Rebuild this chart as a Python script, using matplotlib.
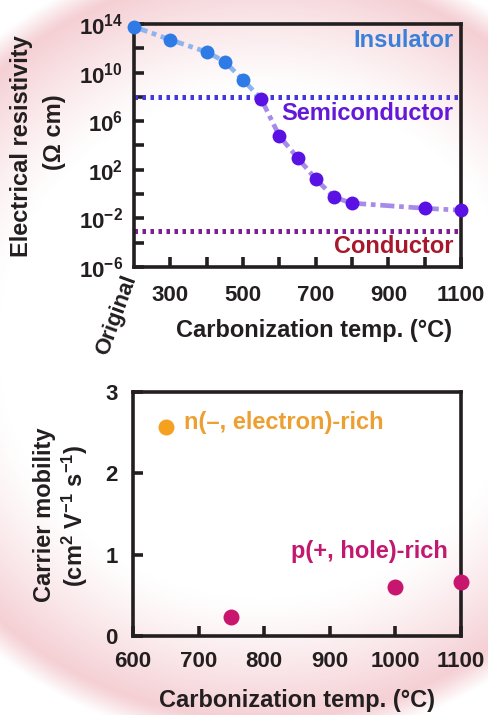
import numpy as np
import matplotlib
matplotlib.use("Agg")
import matplotlib.pyplot as plt
from matplotlib.ticker import NullFormatter

plt.rcParams['font.family'] = ['Liberation Sans', 'DejaVu Sans']
plt.rcParams['font.weight'] = 'bold'
plt.rcParams['mathtext.fontset'] = 'custom'
plt.rcParams['mathtext.rm'] = 'Liberation Sans:bold'
plt.rcParams['mathtext.bf'] = 'Liberation Sans:bold'
plt.rcParams['mathtext.it'] = 'Liberation Sans:bold'

# ---- resistivity vs carbonization temperature (200 stands for the uncarbonized original)
res_temps = [200, 300, 400, 450, 500, 550, 600, 650, 700, 750, 800, 1000, 1100]
res_values = [6e13, 5e12, 5e11, 8e10, 2.5e9, 7e7, 6e4, 1e3, 1.8e1, 5.6e-1, 1.8e-1, 6.8e-2, 4.7e-2]
res_class = ['ins'] * 5 + ['semi'] * 8
semi_upper = 1e8
cond_upper = 1e-3
res_ytick_exp = [14, 10, 6, 2, -2, -6]
res_yminor_exp = [12, 8, 4, 0, -4]
res_xticks = [300, 500, 700, 900, 1100]
res_xminor = [400, 600, 800, 1000]

# ---- carrier mobility
n_temps = [650]
n_mobility = [2.57]
p_temps = [750, 1000, 1100]
p_mobility = [0.23, 0.60, 0.66]
mob_xticks = [600, 700, 800, 900, 1000, 1100]
mob_yticks = [0, 1, 2, 3]

W, H = 489, 715
fig = plt.figure(figsize=(W / 100, H / 100), dpi=100)

# soft pink halo behind the panels
yy, xx = np.mgrid[0:H, 0:W]
r = np.sqrt(((xx - 262) / 400.0) ** 2 + ((yy - 345) / 385.0) ** 2)
inner = np.clip((r - 0.66) / 0.33, 0, 1) ** 1.2
edge = 1 - np.clip((r - 0.97) / 0.07, 0, 1)
t = inner * edge
pink = np.array([244, 204, 209]) / 255.0
img = 1 - t[..., None] * (1 - pink)
bg = fig.add_axes([0, 0, 1, 1], zorder=-10)
bg.imshow(img, extent=[0, W, H, 0], aspect='auto', interpolation='bilinear')
bg.axis('off')

ink = '#231f20'
spine_w = 2.6


def px_axes(l, t_, r_, b_):
    return [l / W, 1 - b_ / H, (r_ - l) / W, (b_ - t_) / H]


def style(ax):
    ax.set_facecolor('none')
    for s in ax.spines.values():
        s.set_linewidth(spine_w)
        s.set_color(ink)
    ax.tick_params(which='both', direction='in', length=7, width=spine_w, color=ink,
                   labelsize=16, labelcolor=ink, top=False, right=False)


# ================= resistivity panel =================
ax1 = fig.add_axes(px_axes(134, 24, 461, 267))
style(ax1)
ax1.set_yscale('log')
ax1.set_xlim(200, 1100)
ax1.set_ylim(1e-6, 1e14)
ax1.set_yticks([10.0 ** e for e in res_ytick_exp])
ax1.set_yticklabels([r'$\mathbf{10^{%d}}$' % e for e in res_ytick_exp])
ax1.set_yticks([10.0 ** e for e in res_yminor_exp], minor=True)
ax1.yaxis.set_minor_formatter(NullFormatter())
ax1.set_xticks(res_xticks)
ax1.set_xticklabels([str(v) for v in res_xticks])
ax1.set_xticks(res_xminor, minor=True)
ax1.tick_params(axis='x', which='major', pad=13)
ax1.tick_params(axis='y', which='major', pad=8)

line_col = {'ins': '#8db4ee', 'semi': '#a68ce8'}
dot_col = {'ins': '#2f7be6', 'semi': '#5a12e4'}
for i in range(len(res_temps) - 1):
    ax1.plot(res_temps[i:i + 2], res_values[i:i + 2], color=line_col[res_class[i]],
             lw=3.4, linestyle=(0, (3, 1, 1, 1)), solid_capstyle='butt', zorder=3)
for c in ('ins', 'semi'):
    xs = [x for x, k in zip(res_temps, res_class) if k == c]
    ys = [y for y, k in zip(res_values, res_class) if k == c]
    ax1.plot(xs, ys, 'o', color=dot_col[c], ms=10, mec='none', zorder=5, clip_on=False)

ax1.axhline(semi_upper, color='#4338dc', lw=3.6, linestyle=(0, (0.7, 0.9)), zorder=2)
ax1.axhline(cond_upper, color='#7e1e92', lw=3.6, linestyle=(0, (0.7, 0.9)), zorder=2)

ax1.text(0.976, 0.934, 'Insulator', transform=ax1.transAxes, ha='right', va='center',
         fontsize=17, fontweight='bold', color='#3a7fd8')
ax1.text(0.976, 0.63, 'Semiconductor', transform=ax1.transAxes, ha='right', va='center',
         fontsize=17, fontweight='bold', color='#6418d8')
ax1.text(0.976, 0.086, 'Conductor', transform=ax1.transAxes, ha='right', va='center',
         fontsize=17, fontweight='bold', color='#a8182c')

ax1.annotate('Original', xy=(200, 1e-6), xytext=(-2, -6), textcoords='offset points',
             rotation=70, rotation_mode='anchor', ha='right', va='center',
             fontsize=16, fontweight='bold', color=ink, annotation_clip=False)

fig.text(22 / W, 1 - 146 / H, 'Electrical resistivity', rotation=90, ha='center', va='center',
         fontsize=17, fontweight='bold', color=ink)
fig.text(55 / W, 1 - 132 / H, '(\u03a9 cm)', rotation=90, ha='center', va='center',
         fontsize=17, fontweight='bold', color=ink)
fig.text(314 / W, 1 - 331 / H, 'Carbonization temp. (\u00b0C)', ha='center', va='center',
         fontsize=17, fontweight='bold', color=ink)

# ================= mobility panel =================
ax2 = fig.add_axes(px_axes(133, 392, 461, 636))
style(ax2)
ax2.set_xlim(600, 1100)
ax2.set_ylim(0, 3)
ax2.set_xticks(mob_xticks)
ax2.set_yticks(mob_yticks)
ax2.tick_params(axis='x', pad=11)
ax2.tick_params(axis='y', pad=11)

ax2.plot(n_temps, n_mobility, 'o', color='#f5a01e', ms=11.5, mec='none', zorder=5, clip_on=False)
ax2.plot(p_temps, p_mobility, 'o', color='#c8166e', ms=11.5, mec='none', zorder=5, clip_on=False)

ax2.text(0.155, 0.873, 'n(\u2013, electron)-rich', transform=ax2.transAxes, ha='left', va='center',
         fontsize=17, fontweight='bold', color='#eda032')
ax2.text(0.960, 0.348, 'p(+, hole)-rich', transform=ax2.transAxes, ha='right', va='center',
         fontsize=17, fontweight='bold', color='#c21870')

fig.text(45 / W, 1 - 515 / H, 'Carrier mobility', rotation=90, ha='center', va='center',
         fontsize=17, fontweight='bold', color=ink)
fig.text(75 / W, 1 - 516 / H, r'(cm$^{2}$ V$^{-1}$ s$^{-1}$)', rotation=90, ha='center',
         va='center', fontsize=17, fontweight='bold', color=ink)
fig.text(297 / W, 1 - 700 / H, 'Carbonization temp. (\u00b0C)', ha='center', va='center',
         fontsize=17, fontweight='bold', color=ink)

fig.savefig('out.png', dpi=100)
